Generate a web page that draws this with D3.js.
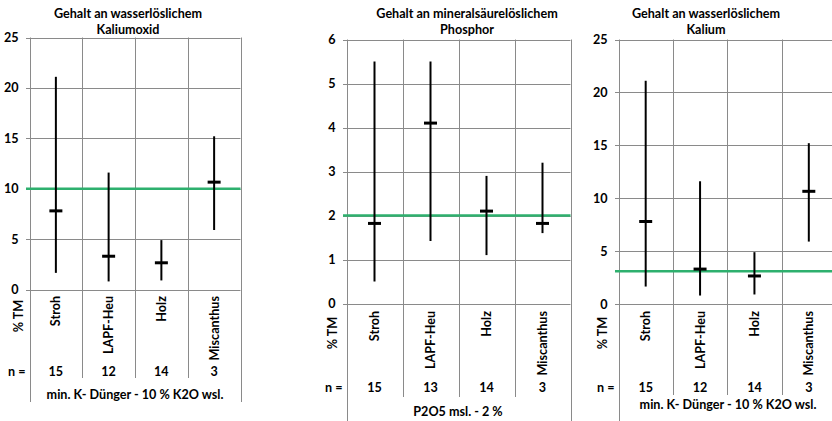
<!DOCTYPE html>
<html>
<head>
<meta charset="utf-8">
<script src="https://cdn.jsdelivr.net/npm/d3@7"></script>
<style>
  html, body { margin: 0; padding: 0; background: #fff; }
  svg { display: block; font-family: Lato, "Open Sans", sans-serif; font-weight: bold; }
</style>
</head>
<body>
<svg id="chart" width="832" height="421"></svg>
<script>
// Sample groups (same order in every panel)
const categories = ["Stroh", "LAPF-Heu", "Holz", "Miscanthus"];

// Panel 1: water-soluble potassium oxide, % TM
const k2oMin  = [1.65, 0.8, 0.9, 5.9];
const k2oMean = [7.8, 3.3, 2.65, 10.65];
const k2oMax  = [21.1, 11.6, 4.9, 15.2];
const k2oN    = [15, 12, 14, 3];
const k2oRef  = 10;
const k2oTicks = [0, 5, 10, 15, 20, 25];

// Panel 2: mineral-acid-soluble phosphorus, % TM
const pMin  = [0.5, 1.42, 1.1, 1.6];
const pMean = [1.82, 4.1, 2.1, 1.82];
const pMax  = [5.5, 5.5, 2.9, 3.2];
const pN    = [15, 13, 14, 3];
const pRef  = 2;
const pTicks = [0, 1, 2, 3, 4, 5, 6];

// Panel 3: water-soluble potassium, % TM
const kMin  = [1.65, 0.8, 0.9, 5.9];
const kMean = [7.8, 3.3, 2.65, 10.65];
const kMax  = [21.1, 11.6, 4.9, 15.2];
const kN    = [15, 12, 14, 3];
const kRef  = 3.1;
const kTicks = [0, 5, 10, 15, 20, 25];

const panels = [
  {
    title: ["Gehalt an wasserlöslichem", "Kaliumoxid"], titleX: 128,
    footer: "min. K- Dünger - 10 % K2O wsl.", footerX: 135, footerY: 399,
    min: k2oMin, mean: k2oMean, max: k2oMax, n: k2oN, ref: k2oRef, ticks: k2oTicks,
    left: 29.5, right: 240.5, top: 37.5, bottom: 289.5,
    labelY: 296, unitX: 18, unitY: 316, nY: 376, sepBottom: 378, borderBottom: 402
  },
  {
    title: ["Gehalt an mineralsäurelöslichem", "Phosphor"], titleX: 467,
    footer: "P2O5 msl. - 2 %", footerX: 458, footerY: 416,
    min: pMin, mean: pMean, max: pMax, n: pN, ref: pRef, ticks: pTicks,
    left: 346.5, right: 570.5, top: 39.5, bottom: 303.5,
    labelY: 311, unitX: 332, unitY: 333, nY: 392, sepBottom: 397, borderBottom: 421
  },
  {
    title: ["Gehalt an wasserlöslichem", "Kalium"], titleX: 706,
    footer: "min. K- Dünger - 10 % K2O wsl.", footerX: 728, footerY: 409,
    min: kMin, mean: kMean, max: kMax, n: kN, ref: kRef, ticks: kTicks,
    left: 618.5, right: 836, top: 39.5, bottom: 304,
    labelY: 311, unitX: 602, unitY: 333, nY: 392, sepBottom: 395, borderBottom: 421
  }
];

const svg = d3.select("#chart");
const gridColor = "#8a8a8a";
const refColor = "#2eb06e";
const fontSize = 12.6;

panels.forEach(p => {
  const g = svg.append("g");
  const ticks = p.ticks;
  const y = d3.scaleLinear().domain([ticks[0], ticks[ticks.length - 1]]).range([p.bottom, p.top]);
  const x = d3.scaleBand().domain(categories).range([p.left, p.right]).padding(0);

  // title (two lines)
  g.append("text")
    .attr("x", p.titleX).attr("y", 18)
    .attr("text-anchor", "middle").attr("font-size", fontSize).attr("fill", "#000")
    .selectAll("tspan").data(p.title).join("tspan")
    .attr("x", p.titleX).attr("dy", (d, i) => i === 0 ? 0 : 16)
    .text(d => d);

  // horizontal grid lines with short outer ticks
  g.append("g").selectAll("line").data(ticks).join("line")
    .attr("x1", p.left - 3.5).attr("x2", p.right)
    .attr("y1", d => Math.round(y(d)) + 0.5).attr("y2", d => Math.round(y(d)) + 0.5)
    .attr("stroke", gridColor).attr("stroke-width", 1);

  // y tick labels
  g.append("g").selectAll("text").data(ticks).join("text")
    .attr("x", p.left - 11).attr("y", d => y(d) + 4.5)
    .attr("text-anchor", "end").attr("font-size", fontSize)
    .text(d => d);

  // category separators through the plot and label area
  const edges = categories.map(c => x(c)).concat([p.right]);
  g.append("g").selectAll("line").data(edges).join("line")
    .attr("x1", d => Math.round(d) + 0.5).attr("x2", d => Math.round(d) + 0.5)
    .attr("y1", p.top)
    .attr("y2", (d, i) => (i === 0 || i === edges.length - 1) ? p.borderBottom : p.sepBottom)
    .attr("stroke", gridColor).attr("stroke-width", 1);

  // reference line (fertiliser content)
  g.append("line")
    .attr("x1", p.left - 3.5).attr("x2", p.right)
    .attr("y1", y(p.ref)).attr("y2", y(p.ref))
    .attr("stroke", refColor).attr("stroke-width", 2.6);

  // range (min–max) lines
  const cx = c => x(c) + x.bandwidth() / 2;
  g.append("g").selectAll("line").data(categories).join("line")
    .attr("x1", c => cx(c)).attr("x2", c => cx(c))
    .attr("y1", (c, i) => y(p.min[i])).attr("y2", (c, i) => y(p.max[i]))
    .attr("stroke", "#000").attr("stroke-width", 2);

  // mean markers
  g.append("g").selectAll("line").data(categories).join("line")
    .attr("x1", c => cx(c) - 6.5).attr("x2", c => cx(c) + 6.5)
    .attr("y1", (c, i) => y(p.mean[i])).attr("y2", (c, i) => y(p.mean[i]))
    .attr("stroke", "#000").attr("stroke-width", 3);

  // rotated category labels
  g.append("g").selectAll("text").data(categories).join("text")
    .attr("transform", c => `translate(${cx(c) + 4.5},${p.labelY}) rotate(-90)`)
    .attr("text-anchor", "end").attr("font-size", fontSize)
    .text(c => c);

  // unit label
  g.append("text")
    .attr("transform", `translate(${p.unitX + 4.5},${p.unitY}) rotate(-90)`)
    .attr("text-anchor", "middle").attr("font-size", fontSize)
    .text("% TM");

  // sample counts
  g.append("text")
    .attr("x", p.left - 4).attr("y", p.nY)
    .attr("text-anchor", "end").attr("font-size", fontSize)
    .text("n =");
  g.append("g").selectAll("text").data(categories).join("text")
    .attr("x", c => cx(c)).attr("y", p.nY)
    .attr("text-anchor", "middle").attr("font-size", fontSize)
    .text((c, i) => p.n[i]);

  // footer: reference fertiliser
  g.append("text")
    .attr("x", p.footerX).attr("y", p.footerY)
    .attr("text-anchor", "middle").attr("font-size", fontSize)
    .text(p.footer);
});
</script>
</body>
</html>
